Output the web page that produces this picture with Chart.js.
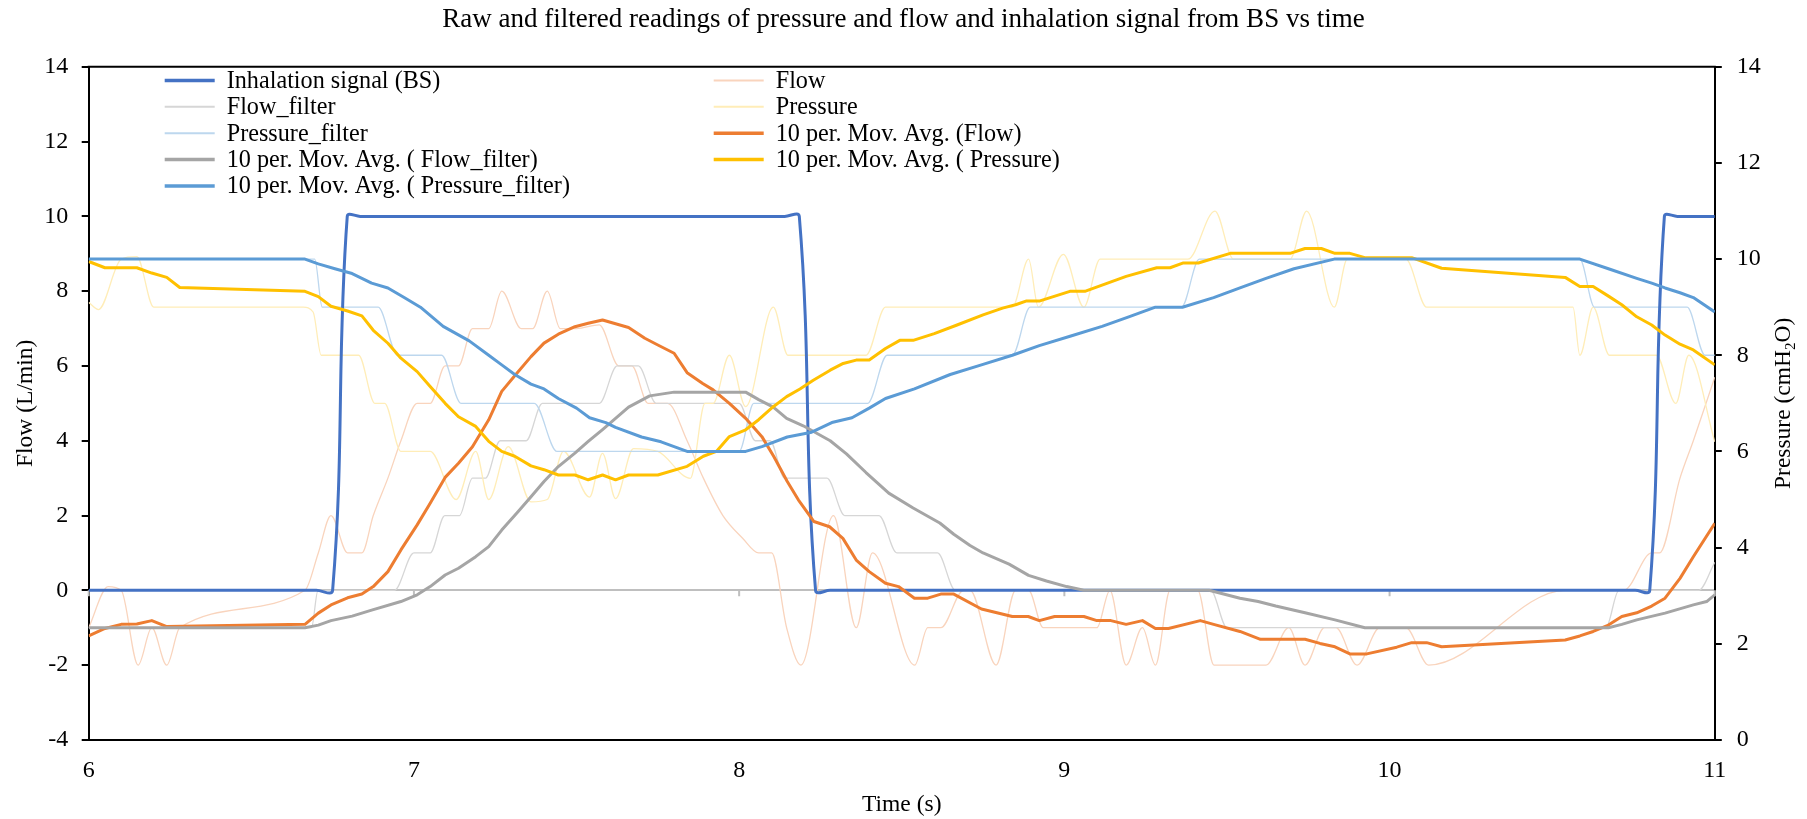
<!DOCTYPE html>
<html lang="en">
<head>
<meta charset="UTF-8">
<title>Raw and filtered readings of pressure and flow</title>
<script src="https://cdn.jsdelivr.net/npm/chart.js@4.4.1/dist/chart.umd.min.js"></script>
<style>
  html, body { margin: 0; padding: 0; background: #fff; }
  #wrap { position: relative; width: 1807px; height: 819px; }
</style>
</head>
<body>
<div id="wrap"><canvas id="chart"></canvas></div>
<script>
// tick labels
const timeTicks = [6, 7, 8, 9, 10, 11];
const flowTicks = [-4, -2, 0, 2, 4, 6, 8, 10, 12, 14];
const pressureTicks = [0, 2, 4, 6, 8, 10, 12, 14];

// [time (s), value]; flow in L/min, pressure in cmH2O
const inhalation = [[6.000,0],[6.700,0],[6.750,0],[6.795,10],[6.835,10],[8.140,10],[8.185,10],[8.235,0],[8.280,0],
  [10.755,0],[10.800,0],[10.845,10],[10.885,10],[11.000,10]];

const flowRaw = [[6.000,-1],[6.060,0.1],[6.100,0],[6.152,-2],[6.194,-1],[6.240,-2],[6.280,-1],[6.665,0],[6.706,1],
  [6.745,2],[6.796,1],[6.840,1],[6.875,2],[6.920,3],[6.960,4],[7.010,5],[7.050,5],[7.096,6],[7.137,6],[7.180,7],
  [7.230,7],[7.270,8],[7.330,7],[7.365,7],[7.410,8],[7.450,7],[7.500,7],[7.570,7.1],[7.630,6],[7.670,6],[7.720,5],
  [7.780,5],[7.840,4],[7.890,3],[7.950,2],[8.010,1.4],[8.060,1],[8.100,1],[8.146,-1],[8.190,-2],[8.290,2],[8.360,-1],
  [8.410,1],[8.540,-2],[8.580,-1],[8.620,-1],[8.690,0],[8.710,0],[8.790,-2],[8.850,0],[8.890,0],[8.935,-1],[9.100,-1],
  [9.140,0],[9.190,-2],[9.240,-1],[9.280,-2],[9.325,0],[9.410,0],[9.460,-2],[9.620,-2],[9.690,-1],[9.740,-2],[9.800,-1],
  [9.835,-1],[9.900,-2],[9.970,-1],[10.050,-1],[10.120,-2],[10.540,0],[10.720,0],[10.806,1],[10.830,1],[10.893,3],
  [10.934,4],[11.000,5.7]];

const flowFilter = [[6.000,-1],[6.240,-1],[6.665,-1],[6.685,-1],[6.705,0],[6.750,0],[6.940,0],[7.000,1],[7.050,1],
  [7.095,2],[7.140,2],[7.180,3],[7.220,3],[7.265,4],[7.345,4],[7.395,5],[7.570,5],[7.625,6],[7.690,6],[7.745,5],
  [8.000,5],[8.050,4],[8.095,4],[8.140,3],[8.270,3],[8.325,2],[8.430,2],[8.485,1],[8.610,1],[8.665,0],[9.450,0],
  [9.500,-1],[10.665,-1],[10.705,0],[10.950,0],[11.000,0.75]];

const pressureRaw = [[6.000,9.1],[6.030,8.95],[6.100,10],[6.148,10.05],[6.200,9],[6.240,9],[6.660,9],[6.690,8.9],
  [6.715,8],[6.800,8],[6.830,8],[6.880,7],[6.910,7],[6.960,6],[7.050,6],[7.130,5],[7.190,6],[7.230,5],[7.290,6.1],
  [7.360,4.95],[7.410,5],[7.460,6],[7.540,5.05],[7.580,5.96],[7.620,5.02],[7.675,6.06],[7.750,6],[7.850,5.44],
  [7.895,7],[7.920,7],[7.970,8],[8.020,6.93],[8.105,9],[8.150,8],[8.390,8],[8.450,9],[8.840,9],[8.890,10],[8.920,9],
  [8.997,10.1],[9.060,9],[9.110,10],[9.380,10],[9.463,11],[9.520,10],[9.694,10],[9.745,11],[9.830,9],[9.870,10],
  [10.050,10],[10.114,9],[10.540,9],[10.564,9],[10.585,8],[10.626,9],[10.676,8],[10.820,8],[10.880,7],[10.920,8],
  [11.000,6.2]];

const pressureFilter = [[6.000,10],[6.240,10],[6.665,10],[6.695,10],[6.718,9],[6.760,9],[6.890,9],[6.950,8],[7.085,8],
  [7.145,7],[7.370,7],[7.440,6],[8.000,6],[8.045,7],[8.395,7],[8.455,8],[8.840,8],[8.895,9],[9.360,9],[9.415,10],
  [10.585,10],[10.630,9],[10.915,9],[10.970,8],[11.000,8]];

const flowMA = [[6.000,-1.22],[6.050,-1.02],[6.100,-0.91],[6.148,-0.90],[6.194,-0.81],[6.240,-0.97],[6.665,-0.91],
  [6.706,-0.61],[6.745,-0.39],[6.796,-0.20],[6.840,-0.10],[6.875,0.10],[6.920,0.50],[6.960,1.08],[7.010,1.75],
  [7.050,2.33],[7.096,3.02],[7.137,3.40],[7.180,3.84],[7.230,4.56],[7.270,5.32],[7.310,5.74],[7.360,6.25],[7.400,6.61],
  [7.444,6.85],[7.495,7.05],[7.536,7.14],[7.580,7.23],[7.660,7.03],[7.710,6.74],[7.750,6.56],[7.800,6.34],[7.840,5.82],
  [7.888,5.53],[7.920,5.36],[7.970,5.00],[8.020,4.60],[8.070,4.11],[8.107,3.57],[8.148,2.91],[8.182,2.42],[8.230,1.84],
  [8.278,1.70],[8.319,1.39],[8.360,0.81],[8.400,0.50],[8.450,0.19],[8.490,0.10],[8.539,-0.21],[8.580,-0.21],
  [8.620,-0.10],[8.660,-0.10],[8.745,-0.50],[8.840,-0.70],[8.889,-0.70],[8.923,-0.81],[8.970,-0.70],[9.060,-0.70],
  [9.100,-0.81],[9.143,-0.81],[9.190,-0.91],[9.240,-0.81],[9.280,-1.02],[9.320,-1.02],[9.418,-0.81],[9.459,-0.91],
  [9.540,-1.10],[9.603,-1.31],[9.740,-1.31],[9.786,-1.42],[9.832,-1.51],[9.878,-1.70],[9.930,-1.70],[10.022,-1.52],
  [10.068,-1.40],[10.114,-1.40],[10.160,-1.51],[10.540,-1.33],[10.585,-1.22],[10.626,-1.10],[10.673,-0.93],
  [10.714,-0.70],[10.760,-0.60],[10.806,-0.42],[10.847,-0.21],[10.893,0.32],[10.934,0.90],[11.000,1.79]];

const flowFilterMA = [[6.000,-1.00],[6.665,-1.00],[6.706,-0.93],[6.745,-0.81],[6.810,-0.69],[6.870,-0.53],[6.960,-0.30],
  [7.010,-0.12],[7.050,0.10],[7.096,0.41],[7.137,0.59],[7.190,0.90],[7.230,1.17],[7.270,1.61],[7.320,2.10],[7.360,2.50],
  [7.400,2.91],[7.444,3.31],[7.495,3.67],[7.536,3.98],[7.580,4.30],[7.620,4.60],[7.660,4.90],[7.725,5.20],[7.800,5.30],
  [8.020,5.30],[8.060,5.10],[8.105,4.90],[8.146,4.60],[8.197,4.40],[8.280,4.00],[8.330,3.65],[8.390,3.15],[8.460,2.60],
  [8.535,2.20],[8.617,1.80],[8.660,1.50],[8.710,1.20],[8.750,1.00],[8.830,0.70],[8.890,0.40],[8.945,0.25],[9.007,0.10],
  [9.060,0.00],[9.445,0.00],[9.540,-0.21],[9.596,-0.30],[9.650,-0.42],[9.740,-0.60],[9.832,-0.79],[9.924,-1.00],
  [10.673,-1.00],[10.714,-0.91],[10.760,-0.79],[10.847,-0.61],[10.934,-0.39],[10.975,-0.30],[11.000,-0.12]];

const pressureMA = [[6.000,9.95],[6.050,9.82],[6.148,9.82],[6.194,9.71],[6.240,9.62],[6.280,9.41],[6.665,9.33],
  [6.706,9.22],[6.745,9.02],[6.796,8.92],[6.840,8.82],[6.875,8.52],[6.920,8.25],[6.960,7.94],[7.010,7.66],[7.050,7.35],
  [7.096,7.00],[7.137,6.72],[7.190,6.52],[7.230,6.21],[7.270,6.00],[7.310,5.90],[7.360,5.70],[7.400,5.62],[7.444,5.51],
  [7.495,5.51],[7.536,5.41],[7.580,5.51],[7.620,5.41],[7.660,5.51],[7.750,5.51],[7.840,5.69],[7.890,5.90],[7.930,6.00],
  [7.970,6.31],[8.020,6.45],[8.060,6.66],[8.105,6.93],[8.146,7.14],[8.187,7.30],[8.228,7.48],[8.280,7.69],[8.320,7.83],
  [8.360,7.90],[8.400,7.90],[8.450,8.14],[8.494,8.31],[8.535,8.31],[8.600,8.45],[8.670,8.63],[8.750,8.84],[8.810,8.98],
  [8.850,9.05],[8.884,9.13],[8.925,9.13],[9.017,9.33],[9.063,9.33],[9.190,9.64],[9.284,9.82],[9.325,9.82],[9.366,9.92],
  [9.412,9.92],[9.510,10.12],[9.694,10.12],[9.740,10.22],[9.790,10.22],[9.832,10.12],[9.878,10.12],[9.924,10.03],
  [10.068,10.03],[10.160,9.81],[10.540,9.62],[10.585,9.43],[10.626,9.43],[10.673,9.23],[10.714,9.05],[10.760,8.80],
  [10.806,8.63],[10.847,8.42],[10.893,8.23],[10.934,8.11],[11.000,7.80]];

const pressureFilterMA = [[6.000,10.0],[6.665,10.0],[6.706,9.9],[6.757,9.8],[6.810,9.7],[6.870,9.5],[6.920,9.4],
  [6.970,9.2],[7.020,9.0],[7.090,8.6],[7.170,8.3],[7.230,8.0],[7.270,7.8],[7.310,7.6],[7.360,7.4],[7.400,7.3],
  [7.444,7.1],[7.500,6.9],[7.540,6.7],[7.590,6.6],[7.620,6.5],[7.700,6.3],[7.760,6.2],[7.840,6.0],[8.020,6.0],
  [8.070,6.1],[8.148,6.3],[8.223,6.4],[8.285,6.6],[8.347,6.7],[8.400,6.9],[8.450,7.1],[8.539,7.3],[8.649,7.6],
  [8.745,7.8],[8.840,8.0],[8.923,8.2],[9.020,8.4],[9.116,8.6],[9.198,8.8],[9.280,9.0],[9.363,9.0],[9.459,9.2],
  [9.540,9.4],[9.620,9.6],[9.706,9.8],[9.830,10.0],[10.585,10.0],[10.673,9.8],[10.760,9.6],[10.806,9.5],[10.847,9.4],
  [10.893,9.3],[10.934,9.2],[11.000,8.9]];

const TITLE = 'Raw and filtered readings of pressure and flow and inhalation signal from BS vs time';
const SERIF = '"Liberation Serif", "Times New Roman", serif';

function series(label, pairs, axis, color, width, curve, order) {
    const ds = {
        label: label,
        data: pairs.map(p => ({ x: p[0], y: p[1] })),
        yAxisID: axis,
        borderColor: color,
        backgroundColor: color,
        borderWidth: width,
        tension: curve ? 0.4 : 0,
        pointRadius: 0,
        fill: false,
        borderJoinStyle: 'round',
        order: order
    };
    if (curve === 'monotone') ds.cubicInterpolationMode = 'monotone';
    return ds;
}

// order: lower number is drawn on top
const datasets = [
    series('Inhalation signal (BS)', inhalation, 'y', '#4472C4', 3, 'bezier', 4),
    series('Flow', flowRaw, 'y', '#F9D4BD', 1.3, 'monotone', 8),
    series('Flow_filter', flowFilter, 'y', '#D6D6D6', 1.3, 'monotone', 7),
    series('Pressure', pressureRaw, 'y1', '#FFEDB8', 1.3, 'monotone', 6),
    series('Pressure_filter', pressureFilter, 'y1', '#BDD7EE', 1.3, 'monotone', 5),
    series('10 per. Mov. Avg. (Flow)', flowMA, 'y', '#ED7D31', 3, false, 3),
    series('10 per. Mov. Avg. ( Flow_filter)', flowFilterMA, 'y', '#A5A5A5', 3, false, 2),
    series('10 per. Mov. Avg. ( Pressure)', pressureMA, 'y1', '#FFC000', 3, false, 1),
    series('10 per. Mov. Avg. ( Pressure_filter)', pressureFilterMA, 'y1', '#5B9BD5', 3, false, 0)
];

// small tick marks on the zero line, top border, titles and the two-column legend
const decorations = {
    id: 'decorations',
    beforeDatasetsDraw(chart) {
        const { ctx, scales } = chart;
        const y0 = scales.y.getPixelForValue(0);
        ctx.save();
        ctx.strokeStyle = '#BFBFBF';
        ctx.lineWidth = 2;
        ctx.beginPath();
        timeTicks.forEach(t => {
            const px = scales.x.getPixelForValue(t);
            ctx.moveTo(px, y0);
            ctx.lineTo(px, y0 + 6);
        });
        ctx.stroke();
        ctx.restore();
    },
    afterDraw(chart) {
        const { ctx, chartArea: a } = chart;
        const midY = (a.top + a.bottom) / 2;
        ctx.save();

        ctx.strokeStyle = '#000';
        ctx.lineWidth = 2;
        ctx.beginPath();
        ctx.moveTo(a.left - 1, a.top);
        ctx.lineTo(a.right + 1, a.top);
        ctx.stroke();

        ctx.fillStyle = '#000';
        ctx.textAlign = 'center';
        ctx.textBaseline = 'alphabetic';
        ctx.font = '27px ' + SERIF;
        ctx.fillText(TITLE, chart.width / 2, 27);

        ctx.font = '23.5px ' + SERIF;
        ctx.fillText('Time (s)', (a.left + a.right) / 2, a.bottom + 71);

        ctx.save();
        ctx.translate(a.left - 57, midY);
        ctx.rotate(-Math.PI / 2);
        ctx.fillText('Flow (L/min)', 0, 0);
        ctx.restore();

        // right axis title, read bottom to top, with subscript 2
        ctx.save();
        ctx.translate(a.right + 75, midY);
        ctx.rotate(-Math.PI / 2);
        ctx.textAlign = 'left';
        const big = '23.5px ' + SERIF, small = '15px ' + SERIF;
        ctx.font = big;
        const w1 = ctx.measureText('Pressure (cmH').width;
        const w3 = ctx.measureText('O)').width;
        ctx.font = small;
        const w2 = ctx.measureText('2').width;
        const sx = -(w1 + w2 + w3) / 2;
        ctx.font = big;
        ctx.fillText('Pressure (cmH', sx, 0);
        ctx.font = small;
        ctx.fillText('2', sx + w1, 5);
        ctx.font = big;
        ctx.fillText('O)', sx + w1 + w2, 0);
        ctx.restore();

        // legend: two columns, filled row by row
        ctx.font = '24.2px ' + SERIF;
        ctx.textAlign = 'left';
        ctx.textBaseline = 'middle';
        ctx.lineCap = 'butt';
        const colX = [a.left + 76, a.left + 625];
        chart.data.datasets.forEach((ds, i) => {
            const x0 = colX[i % 2];
            const yy = a.top + 13.7 + Math.floor(i / 2) * 26.35;
            ctx.strokeStyle = ds.borderColor;
            ctx.lineWidth = ds.borderWidth > 2 ? 3.5 : 2;
            ctx.beginPath();
            ctx.moveTo(x0, yy);
            ctx.lineTo(x0 + 50, yy);
            ctx.stroke();
            ctx.fillStyle = '#000';
            ctx.fillText(ds.label, x0 + 62, yy + 1);
        });
        ctx.restore();
    }
};

function fixedTicks(list) {
    return function (scale) {
        scale.ticks = list.map(v => ({ value: v }));
    };
}

const tickFont = { family: SERIF, size: 24 };

new Chart(document.getElementById('chart'), {
    type: 'line',
    data: { datasets: datasets },
    options: {
        responsive: true,
        maintainAspectRatio: false,
        animation: false,
        events: [],
        layout: { padding: { top: 66.8, left: 0, right: 0, bottom: 0 } },
        plugins: {
            legend: { display: false },
            title: { display: false },
            tooltip: { enabled: false }
        },
        scales: {
            x: {
                type: 'linear',
                position: 'bottom',
                min: timeTicks[0],
                max: timeTicks[timeTicks.length - 1],
                afterBuildTicks: fixedTicks(timeTicks),
                afterFit: s => { s.height = 79.1; },
                grid: { display: false, drawTicks: false },
                border: { display: true, color: '#000', width: 2 },
                ticks: { padding: 16, font: tickFont, color: '#000', maxRotation: 0, autoSkip: false }
            },
            y: {
                position: 'left',
                min: flowTicks[0],
                max: flowTicks[flowTicks.length - 1],
                afterBuildTicks: fixedTicks(flowTicks),
                afterFit: s => { s.width = 88.7; },
                grid: {
                    drawOnChartArea: true,
                    color: c => (c.tick && c.tick.value === 0) ? '#BFBFBF' : 'rgba(0,0,0,0)',
                    lineWidth: 2,
                    drawTicks: true,
                    tickLength: 7,
                    tickColor: '#000',
                    tickWidth: 2
                },
                border: { display: true, color: '#000', width: 2 },
                ticks: { padding: 13.4, font: tickFont, color: '#000', autoSkip: false }
            },
            y1: {
                position: 'right',
                min: pressureTicks[0],
                max: pressureTicks[pressureTicks.length - 1],
                afterBuildTicks: fixedTicks(pressureTicks),
                afterFit: s => { s.width = 92.2; },
                grid: {
                    drawOnChartArea: false,
                    drawTicks: true,
                    tickLength: 7,
                    color: '#000',
                    tickColor: '#000',
                    lineWidth: 2,
                    tickWidth: 2
                },
                border: { display: true, color: '#000', width: 2 },
                ticks: { padding: 15, font: tickFont, color: '#000', autoSkip: false }
            }
        }
    },
    plugins: [decorations]
});
</script>
</body>
</html>
